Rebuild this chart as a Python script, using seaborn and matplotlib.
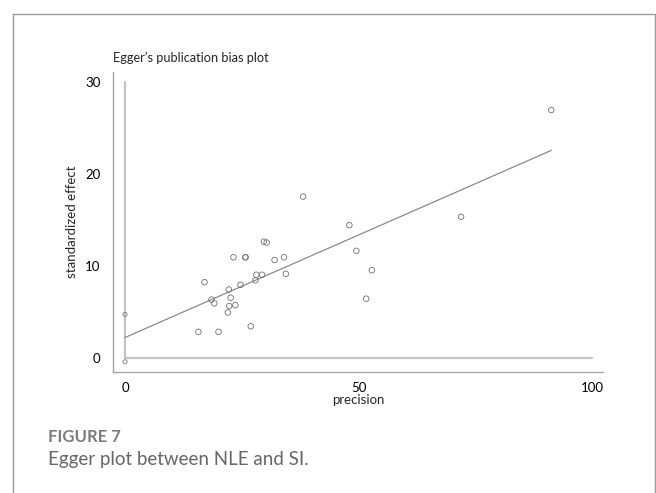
import numpy as np
import pandas as pd
import matplotlib
matplotlib.use('Agg')
import matplotlib.pyplot as plt
from matplotlib.lines import Line2D
import seaborn as sns

sns.set_style("white")
plt.rcParams['font.family'] = ['Lato', 'DejaVu Sans']

# Study values
precision = [38.1, 48.0, 49.5, 52.8, 51.6, 29.7, 30.3, 23.2, 25.7, 25.8,
             32.0, 34.0, 34.4, 17.0, 28.1, 29.3, 27.9, 24.7, 22.2, 18.5,
             19.1, 22.6, 22.3, 23.6, 22.0, 26.9, 15.7, 20.0, 91.2, 71.9]
std_effect = [17.6, 14.5, 11.7, 9.6, 6.5, 12.7, 12.6, 11.0, 11.0, 11.0,
              10.7, 11.0, 9.2, 8.3, 9.1, 9.1, 8.5, 8.0, 7.5, 6.4,
              6.0, 6.6, 5.7, 5.8, 5.0, 3.5, 2.9, 2.9, 27.0, 15.4]

# Egger regression: intercept, slope and intercept CI
fit_intercept = 2.28
fit_slope = 0.223
intercept_ci = [-0.36, 4.8]

x_ticks = [0, 50, 100]
y_ticks = [0, 10, 20, 30]

df = pd.DataFrame({'precision': precision, 'standardized effect': std_effect})

fig = plt.figure(figsize=(6.56, 4.93), dpi=100)
ax = fig.add_axes([0.1723, 0.2454, 0.7464, 0.6086])

# reference lines at x=0 and y=0
ax.plot([0, 0], [0, 30], color='#c4c4c4', lw=1.6, zorder=1)
ax.plot([0, 100], [0, 0], color='#c4c4c4', lw=1.6, zorder=1)

# fitted line
xs = np.array([0, max(precision)])
ax.plot(xs, fit_intercept + fit_slope * xs, color='#8a8a8a', lw=0.9, zorder=2)

sns.scatterplot(data=df, x='precision', y='standardized effect', ax=ax,
                marker='o', s=16, facecolor='none', edgecolor='#6e6e6e',
                linewidth=0.6, zorder=3)
ax.scatter([0, 0], intercept_ci, s=9, facecolor='none', edgecolor='#7a7a7a',
           linewidth=0.6, zorder=3)

ax.set_xlim(-2.57, 102.2)
ax.set_ylim(-1.47, 31.14)
ax.set_xticks(x_ticks)
ax.set_yticks(y_ticks)
sns.despine(ax=ax)
for side in ['left', 'bottom']:
    ax.spines[side].set_color('#a8a8a8')
    ax.spines[side].set_linewidth(1.0)
ax.tick_params(axis='both', direction='out', length=5, width=0.8,
               color='#a8a8a8', labelsize=9.5, pad=2, labelcolor='black')
ax.tick_params(axis='y', pad=4)
ax.set_xlabel('precision', fontsize=9.5, labelpad=0)
ax.set_ylabel('standardized effect', fontsize=9.5, labelpad=5)
ax.set_title("Egger\u2019s publication bias plot", loc='left', fontsize=9.2, pad=7)

# outer frame of the figure panel
x0, x1, ytop = 13 / 656, 655 / 656, 1 - 14 / 493
for xy in [([x0, x0], [ytop, 0]), ([x0, x1], [ytop, ytop]), ([x1, x1], [ytop, 0])]:
    fig.add_artist(Line2D(xy[0], xy[1], color='#9a9a9a', lw=1.0,
                          transform=fig.transFigure))

fig.text(48 / 656, 1 - 437 / 493, 'FIGURE 7', fontsize=12, fontweight='bold',
         color='#7c7c7c', va='center', ha='left')
fig.text(48 / 656, 1 - 460 / 493, 'Egger plot between NLE and SI.', fontsize=13.5,
         color='#666666', va='center', ha='left')

fig.savefig('out.png', dpi=100)
